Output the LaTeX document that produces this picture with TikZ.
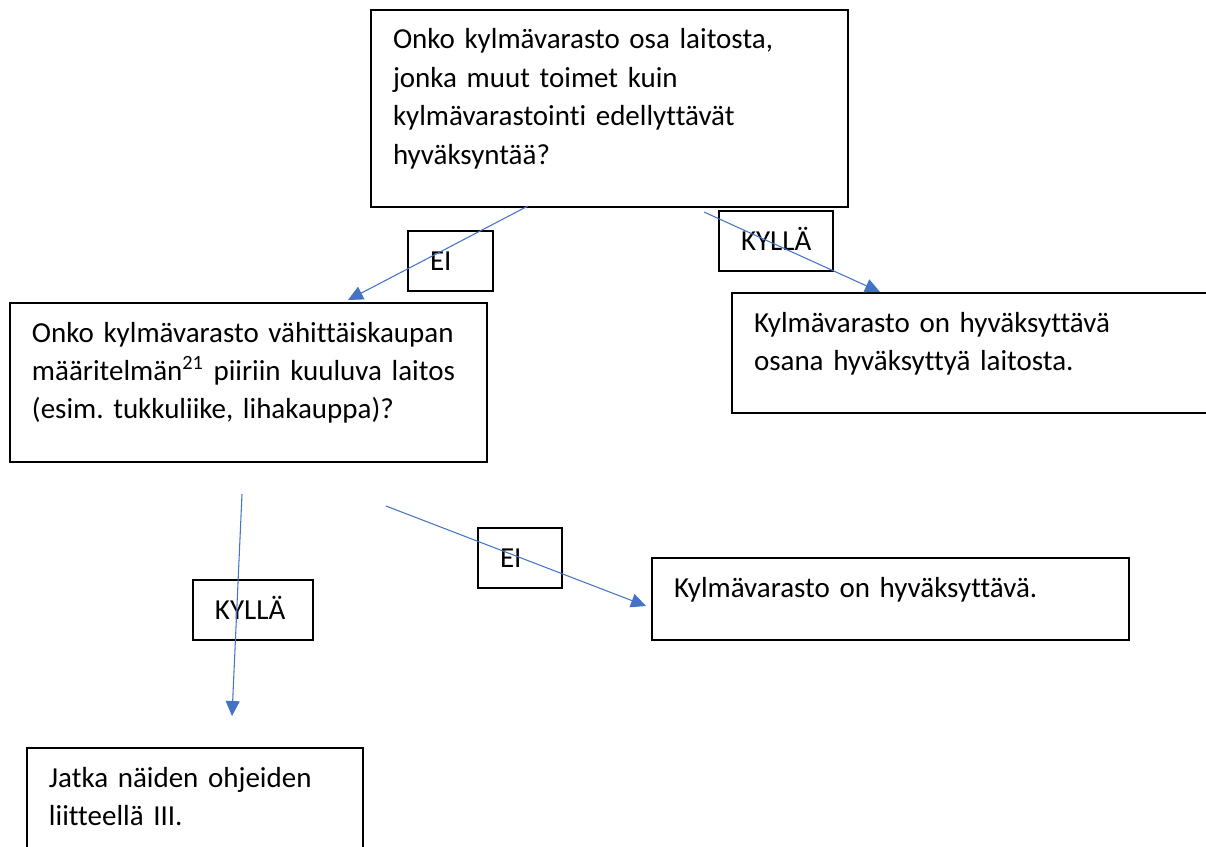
\documentclass[tikz,border=0pt]{standalone}
\usepackage{fontspec}
\setmainfont{Carlito}[Ligatures=NoCommon]
\usepackage{tikz}
\usetikzlibrary{arrows.meta}
\definecolor{FlowBlue}{RGB}{68,114,196}
\newcommand{\boxfont}{\fontsize{16.5pt}{21.9pt}\selectfont\frenchspacing}
\tikzset{
  qbox/.style={
    draw=black,
    line width=0.9pt,
    anchor=north west,
    outer sep=0pt,
    inner xsep=0.44cm,
    inner ysep=0pt,
    align=left,
    text height=0.78cm,
    text width=8.66cm,
    font=\boxfont
  },
  tagbox/.style={qbox,text depth=0.42cm},
  flow/.style={-{Triangle[length=0.3cm,width=0.28cm]},line width=0.6pt,draw=FlowBlue}
}

\begin{document}
\begin{tikzpicture}[x=0.02cm,y=-0.02cm]
  \useasboundingbox (0,0) rectangle (1206,846);

  % question and answer boxes
  \node[qbox, text depth=3.16cm] (q1) at (371,10)
    {Onko kylmävarasto osa laitosta,\\jonka muut toimet kuin\\kylmävarastointi edellyttävät\\hyväksyntää?};
  \node[qbox, text depth=2.40cm] (q2) at (10,303)
    {Onko kylmävarasto vähittäiskaupan\\määritelmän\textsuperscript{21} piiriin kuuluva laitos\\(esim. tukkuliike, lihakauppa)?};
  \node[qbox, text depth=1.62cm] (okpart) at (732,293)
    {Kylmävarasto on hyväksyttävä\\osana hyväksyttyä laitosta.};
  \node[qbox, text depth=0.86cm] (ok) at (652,558)
    {Kylmävarasto on hyväksyttävä.};
  \node[qbox, text width=5.84cm, text depth=1.62cm] (annex) at (27,748)
    {Jatka näiden ohjeiden\\liitteellä III.};

  % answer tags
  \node[tagbox, text width=0.82cm] (no1) at (408,231) {EI};
  \node[tagbox, text width=1.40cm] (yes1) at (719,211) {KYLLÄ};
  \node[tagbox, text width=0.80cm] (no2) at (478,528) {EI};
  \node[tagbox, text width=1.52cm] (yes2) at (193,580) {KYLLÄ};

  % arrow ends
  \coordinate (q1no) at (528,206);
  \coordinate (q2in) at (348,300);
  \coordinate (q1yes) at (704,212);
  \coordinate (okpartin) at (880,292);
  \coordinate (q2yes) at (242,494);
  \coordinate (annexin) at (232,716);
  \coordinate (q2no) at (386,506);
  \coordinate (okin) at (646,606);

  \draw[flow] (q1no) -- (q2in);
  \draw[flow] (q1yes) -- (okpartin);
  \draw[flow] (q2yes) -- (annexin);
  \draw[flow] (q2no) -- (okin);
\end{tikzpicture}
\end{document}
